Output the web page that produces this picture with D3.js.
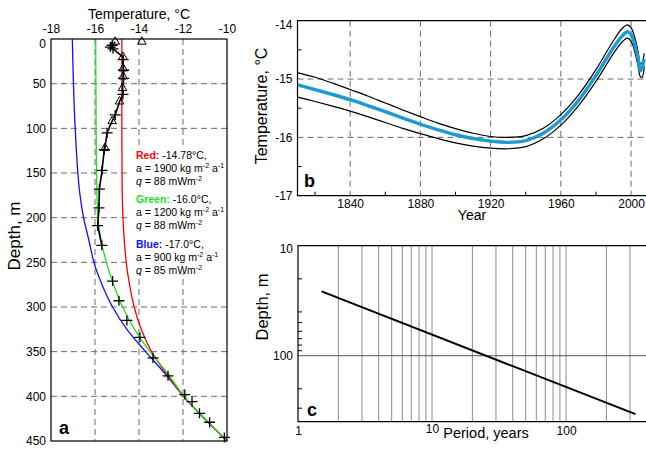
<!DOCTYPE html>
<html><head><meta charset="utf-8">
<script src="https://cdn.jsdelivr.net/npm/d3@7"></script>
<style>
html,body{margin:0;padding:0;background:#fff;}
svg{display:block;font-family:"Liberation Sans",Arial,Helvetica,sans-serif;}
</style></head><body>
<svg id="chart" width="646" height="452"></svg>
<script>
// ---------- Panel a data ----------
const tempTicksA = [-18, -16, -14, -12, -10];
const depthTicksA = [0, 50, 100, 150, 200, 250, 300, 350, 400, 450];
const gridTempA = [-16, -14, -12];
const gridDepthA = [50, 100, 150, 200, 250, 300, 350, 400];
const curveDepths = [0, 50, 100, 150, 175, 200, 225, 250, 275, 300, 325, 350, 375, 400, 425, 450];
const redT   = [-14.78, -14.78, -14.78, -14.77, -14.76, -14.73, -14.67, -14.58, -14.43, -14.22, -13.90, -13.43, -12.74, -11.97, -11.02, -10.0];
const greenT = [-15.97, -15.96, -15.95, -15.93, -15.91, -15.87, -15.73, -15.48, -15.15, -14.74, -14.20, -13.50, -12.68, -11.95, -11.00, -10.0];
const blueT  = [-17.03, -16.98, -16.90, -16.78, -16.68, -16.52, -16.28, -16.05, -15.68, -15.20, -14.55, -13.70, -12.80, -11.98, -11.02, -10.0];
const triT = [-15.08, -14.73, -14.72, -14.72, -14.75, -14.88, -15.22, -15.55];
const triD = [3, 20, 33, 42, 55, 70, 92, 122];
const loneTriT = [-13.87];
const loneTriD = [3];
const plusT = [-15.22, -15.30, -15.18, -14.72, -14.70, -14.70, -14.73, -15.08, -15.45, -15.58, -15.68, -15.80, -15.82, -15.88, -15.69,
               -15.20, -14.91, -14.55, -13.96, -13.36, -12.68, -11.92, -11.59, -11.25, -10.79, -10.12];
const plusD = [7, 9, 11, 23, 35, 44, 62, 85, 105, 124, 147, 168, 189, 209, 231,
               271, 293, 315, 334, 357, 377, 398, 406, 419, 429, 446];
const profileMaxDepth = 231;
const annotNames = ["Red:", "Green:", "Blue:"];
const annotTemps = [" -14.78°C,", " -16.0°C,", " -17.0°C,"];
const annotA = ["1900", "1200", "900"];
const annotQ = ["88", "88", "85"];

// ---------- Panel b data ----------
const yearTicksB = [1840, 1880, 1920, 1960, 2000];
const yearMinorB = [1820, 1860, 1900, 1940, 1980];
const tempTicksB = [-17, -16, -15, -14];
const tempMinorB = [-16.5, -15.5, -14.5];
const gridTempB = [-16, -15];
const yearsB  = [1810, 1820, 1830, 1840, 1850, 1860, 1870, 1880, 1890, 1900, 1910, 1920, 1930, 1940, 1950, 1960, 1970, 1980, 1990, 1995, 1998, 2000, 2002, 2004, 2005.3, 2006.3, 2007.5];
const centerB = [-15.10, -15.18, -15.265, -15.355, -15.455, -15.56, -15.67, -15.775, -15.87, -15.955, -16.02, -16.065, -16.085, -16.055, -15.93, -15.70, -15.37, -14.94, -14.46, -14.26, -14.19, -14.24, -14.40, -14.65, -14.86, -14.80, -14.66];
const upperB  = [-14.89, -14.97, -15.07, -15.18, -15.29, -15.41, -15.53, -15.645, -15.755, -15.85, -15.93, -15.985, -16.00, -15.97, -15.845, -15.61, -15.275, -14.84, -14.34, -14.13, -14.07, -14.12, -14.28, -14.53, -14.74, -14.72, -14.56];
const lowerB  = [-15.31, -15.385, -15.465, -15.55, -15.645, -15.745, -15.845, -15.935, -16.02, -16.095, -16.15, -16.185, -16.195, -16.16, -16.025, -15.79, -15.46, -15.04, -14.56, -14.36, -14.30, -14.35, -14.52, -14.78, -14.96, -14.97, -14.78];

// ---------- Panel c data ----------
const periodTicksC = [1, 10, 100];
const periodGridC = [2, 3, 4, 5, 6, 7, 8, 9, 10, 20, 30, 40, 50, 60, 70, 80, 90, 100, 200, 300];
const depthTicksC = [10, 100];
const depthMinorC = [20, 40, 50, 60, 70, 80, 90, 200, 300];
const periodsC = [1.5, 330];
const depthsC = [26, 340];

const FONT = '"Liberation Sans",Arial,Helvetica,sans-serif';
const svg = d3.select('#chart');
const RED = '#ff0000', GREEN = '#1ee01e', BLUE = '#1010ff', CYAN = '#1b9bcf', GRID = '#6a6a6a';

function styleAxis(g, size) {
  g.select('.domain').remove();
  g.selectAll('text').attr('font-size', size).attr('font-family', FONT).attr('fill', '#000');
}

// ================= Panel a =================
const xA = d3.scaleLinear().domain([-18, -10]).range([51, 227]);
const yA = d3.scaleLinear().domain([0, 450]).range([39, 441]);
const gA = svg.append('g');

gA.selectAll('line.vg').data(gridTempA).join('line')
  .attr('x1', d => xA(d)).attr('x2', d => xA(d)).attr('y1', yA(0)).attr('y2', yA(450))
  .attr('stroke', GRID).attr('stroke-width', 1).attr('stroke-dasharray', '6,4');
gA.selectAll('line.hg').data(gridDepthA).join('line')
  .attr('x1', xA(-18)).attr('x2', xA(-10)).attr('y1', d => yA(d)).attr('y2', d => yA(d))
  .attr('stroke', GRID).attr('stroke-width', 1).attr('stroke-dasharray', '6,4');

// white box behind annotation
gA.append('rect').attr('x', 131).attr('y', 146).attr('width', xA(-10) - 131.5).attr('height', 127).attr('fill', '#fff');

const lineA = d3.line().x(d => xA(d[0])).y(d => yA(d[1])).curve(d3.curveCatmullRom.alpha(0.5));
[[blueT, BLUE], [redT, RED], [greenT, GREEN]].forEach(([arr, col]) => {
  gA.append('path').datum(arr.map((t, i) => [t, curveDepths[i]]))
    .attr('d', lineA).attr('fill', 'none').attr('stroke', col).attr('stroke-width', 1.3);
});

// measured profile line
const profPts = triT.map((t, i) => [t, triD[i]]).concat(plusT.map((t, i) => [t, plusD[i]]))
  .filter(d => d[1] <= profileMaxDepth).sort((a, b) => a[1] - b[1]);
gA.append('path').datum(profPts)
  .attr('d', d3.line().x(d => xA(d[0])).y(d => yA(d[1])))
  .attr('fill', 'none').attr('stroke', '#000').attr('stroke-width', 1.6);

// pluses
gA.selectAll('path.plus').data(plusT.map((t, i) => [t, plusD[i]])).join('path')
  .attr('d', d => {
    const x = xA(d[0]), y = yA(d[1]);
    return `M${x - 5.5},${y}H${x + 5.5}M${x},${y - 5}V${y + 5}`;
  })
  .attr('stroke', '#000').attr('stroke-width', 1.3).attr('fill', 'none');
// triangles
const tri = d3.symbol().type(d3.symbolTriangle).size(32);
gA.selectAll('path.tri').data(triT.map((t, i) => [t, triD[i]]).concat(loneTriT.map((t, i) => [t, loneTriD[i]]))).join('path')
  .attr('d', tri).attr('transform', d => `translate(${xA(d[0])},${yA(d[1])})`)
  .attr('fill', 'none').attr('stroke', '#000').attr('stroke-width', 1);

// frame
gA.append('rect').attr('x', xA(-18)).attr('y', yA(0)).attr('width', xA(-10) - xA(-18)).attr('height', yA(450) - yA(0))
  .attr('fill', 'none').attr('stroke', '#000').attr('stroke-width', 1.2);

// axes
const axTopA = gA.append('g').attr('transform', `translate(0,${yA(0)})`)
  .call(d3.axisTop(xA).tickValues(tempTicksA).tickSize(0).tickPadding(6).tickFormat(d => String(d)));
styleAxis(axTopA, 12);
const axLeftA = gA.append('g').attr('transform', `translate(${xA(-18)},0)`)
  .call(d3.axisLeft(yA).tickValues(depthTicksA).tickSize(0).tickPadding(5).tickFormat(d => String(d)));
styleAxis(axLeftA, 12);
axLeftA.selectAll('.tick').filter(d => d === 0).select('text').attr('dy', '0.72em');

gA.append('text').attr('x', 139).attr('y', 19).attr('text-anchor', 'middle').attr('font-size', 14).text('Temperature, °C');
gA.append('text').attr('transform', 'translate(20,236) rotate(-90)').attr('text-anchor', 'middle').attr('font-size', 17).text('Depth, m');
gA.append('text').attr('x', 59).attr('y', 434).attr('font-size', 18).attr('font-weight', 'bold').text('a');

// annotation
const annotCols = [RED, GREEN, BLUE];
const baseY = [158.5, 203, 248];
annotNames.forEach((nm, i) => {
  const y0 = baseY[i];
  const t1 = gA.append('text').attr('x', 136).attr('y', y0).attr('font-size', 10.5);
  t1.append('tspan').attr('font-weight', 'bold').attr('fill', annotCols[i]).text(nm);
  t1.append('tspan').text(annotTemps[i]);
  const t2 = gA.append('text').attr('x', 136).attr('y', y0 + 13.2).attr('font-size', 10.5);
  t2.append('tspan').text(`a = ${annotA[i]} kg m`);
  t2.append('tspan').attr('font-size', 7).attr('dy', -4).text('-2');
  t2.append('tspan').attr('dy', 4).text(' a');
  t2.append('tspan').attr('font-size', 7).attr('dy', -4).text('-1');
  const t3 = gA.append('text').attr('x', 136).attr('y', y0 + 26.4).attr('font-size', 10.5);
  t3.append('tspan').attr('font-style', 'italic').text('q');
  t3.append('tspan').text(` = ${annotQ[i]} mWm`);
  t3.append('tspan').attr('font-size', 7).attr('dy', -4).text('-2');
});

// ================= Panel b =================
const xB = d3.scaleLinear().domain([1810, 2008.5]).range([297.5, 646]);
const yB = d3.scaleLinear().domain([-17, -14]).range([195.7, 20.7]);
const gB = svg.append('g');

gB.selectAll('line.vg').data(yearTicksB).join('line')
  .attr('x1', d => xB(d)).attr('x2', d => xB(d)).attr('y1', yB(-14)).attr('y2', yB(-17))
  .attr('stroke', GRID).attr('stroke-width', 1).attr('stroke-dasharray', '6,4');
gB.selectAll('line.hg').data(gridTempB).join('line')
  .attr('x1', xB(1810)).attr('x2', 646).attr('y1', d => yB(d)).attr('y2', d => yB(d))
  .attr('stroke', GRID).attr('stroke-width', 1).attr('stroke-dasharray', '6,4');

const lineB = d3.line().x(d => xB(d[0])).y(d => yB(d[1])).curve(d3.curveCatmullRom.alpha(0.5));
gB.append('path').datum(yearsB.map((y, i) => [y, upperB[i]])).attr('d', lineB)
  .attr('fill', 'none').attr('stroke', '#000').attr('stroke-width', 1.2);
gB.append('path').datum(yearsB.map((y, i) => [y, lowerB[i]])).attr('d', lineB)
  .attr('fill', 'none').attr('stroke', '#000').attr('stroke-width', 1.2);
gB.append('path').datum(yearsB.map((y, i) => [y, centerB[i]])).attr('d', lineB)
  .attr('fill', 'none').attr('stroke', CYAN).attr('stroke-width', 3.4);

// frame lines
gB.append('path').attr('d', `M646,${yB(-14)}H${xB(1810)}V${yB(-17)}H646`)
  .attr('fill', 'none').attr('stroke', '#000').attr('stroke-width', 1.2);
// minor ticks
gB.selectAll('line.mx').data(yearMinorB).join('line')
  .attr('x1', d => xB(d)).attr('x2', d => xB(d)).attr('y1', yB(-17)).attr('y2', yB(-17) - 4)
  .attr('stroke', '#000').attr('stroke-width', 1);
gB.selectAll('line.my').data(tempMinorB).join('line')
  .attr('x1', xB(1810)).attr('x2', xB(1810) + 4).attr('y1', d => yB(d)).attr('y2', d => yB(d))
  .attr('stroke', '#000').attr('stroke-width', 1);

const axBotB = gB.append('g').attr('transform', `translate(0,${yB(-17)})`)
  .call(d3.axisBottom(xB).tickValues(yearTicksB).tickSize(0).tickPadding(4).tickFormat(d => String(d)));
styleAxis(axBotB, 12);
const axLeftB = gB.append('g').attr('transform', `translate(${xB(1810)},0)`)
  .call(d3.axisLeft(yB).tickValues(tempTicksB).tickSize(0).tickPadding(5).tickFormat(d => String(d)));
styleAxis(axLeftB, 12);
axLeftB.selectAll('.tick').filter(d => d === -14).select('text').attr('dy', '0.65em');

gB.append('text').attr('x', 472).attr('y', 220).attr('text-anchor', 'middle').attr('font-size', 14).text('Year');
gB.append('text').attr('transform', 'translate(267,106) rotate(-90)').attr('text-anchor', 'middle').attr('font-size', 16).text('Temperature, °C');
gB.append('text').attr('x', 304).attr('y', 186.5).attr('font-size', 18).attr('font-weight', 'bold').text('b');

// ================= Panel c =================
const xC = d3.scaleLog().domain([1, 395]).range([298, 646]);
const yC = d3.scaleLog().domain([10, 398]).range([245.7, 421.7]);
const gC = svg.append('g');

gC.selectAll('line.vg').data(periodGridC).join('line')
  .attr('x1', d => xC(d)).attr('x2', d => xC(d)).attr('y1', yC(10)).attr('y2', yC(398))
  .attr('stroke', '#8c8c8c').attr('stroke-width', 1);
gC.append('line').attr('x1', xC(1)).attr('x2', 646).attr('y1', yC(100)).attr('y2', yC(100))
  .attr('stroke', '#555').attr('stroke-width', 1);

gC.append('path').datum(periodsC.map((p, i) => [p, depthsC[i]]))
  .attr('d', d3.line().x(d => xC(d[0])).y(d => yC(d[1])))
  .attr('fill', 'none').attr('stroke', '#000').attr('stroke-width', 2);

gC.append('path').attr('d', `M646,${yC(10)}H${xC(1)}V${yC(398)}H646`)
  .attr('fill', 'none').attr('stroke', '#000').attr('stroke-width', 1.2);
gC.selectAll('line.my').data(depthMinorC).join('line')
  .attr('x1', xC(1)).attr('x2', xC(1) + 4).attr('y1', d => yC(d)).attr('y2', d => yC(d))
  .attr('stroke', '#000').attr('stroke-width', 1);

const axBotC = gC.append('g').attr('transform', `translate(0,${yC(398)})`)
  .call(d3.axisBottom(xC).tickValues(periodTicksC).tickSize(0).tickPadding(5).tickFormat(d => String(d)));
styleAxis(axBotC, 12);
axBotC.selectAll('.tick').filter(d => d === 10).select('text').attr('dy', '0.5em');
const axLeftC = gC.append('g').attr('transform', `translate(${xC(1)},0)`)
  .call(d3.axisLeft(yC).tickValues(depthTicksC).tickSize(0).tickPadding(5).tickFormat(d => String(d)));
styleAxis(axLeftC, 12);
axLeftC.selectAll('.tick').filter(d => d === 10).select('text').attr('dy', '0.55em');

gC.append('text').attr('x', 486).attr('y', 437.5).attr('text-anchor', 'middle').attr('font-size', 14.5).text('Period, years');
gC.append('text').attr('transform', 'translate(267.5,307) rotate(-90)').attr('text-anchor', 'middle').attr('font-size', 16.5).text('Depth, m');
gC.append('text').attr('x', 307).attr('y', 416).attr('font-size', 18).attr('font-weight', 'bold').text('c');
</script>
</body></html>
